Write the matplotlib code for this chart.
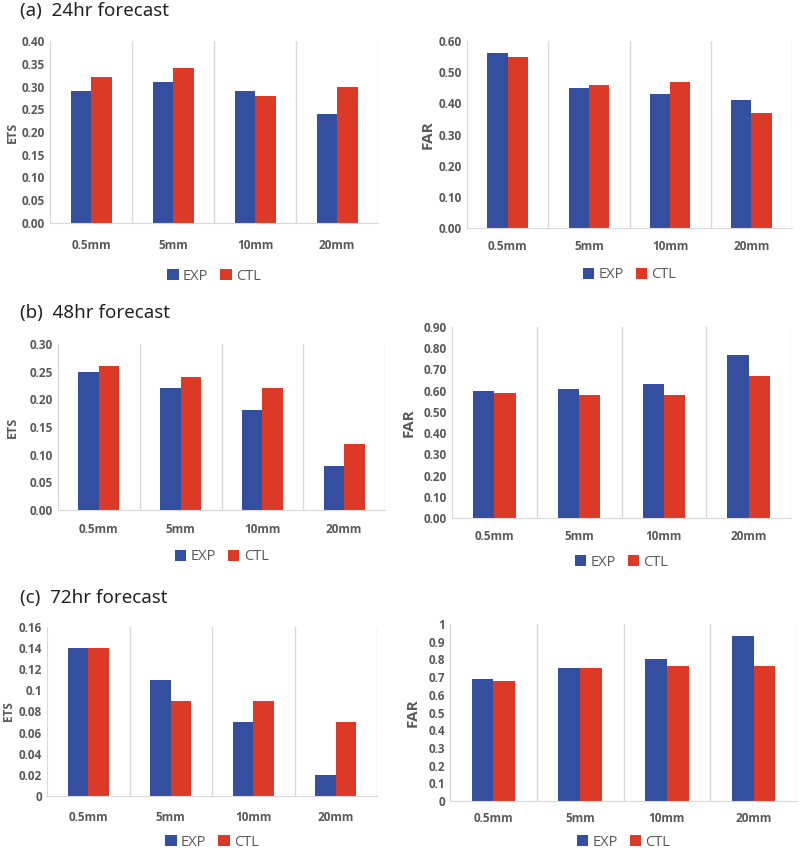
import numpy as np
import matplotlib.pyplot as plt

plt.rcParams['font.family'] = ['Open Sans', 'DejaVu Sans']

cats = ['0.5mm', '5mm', '10mm', '20mm']

ets_24_exp = [0.29, 0.31, 0.29, 0.24]
ets_24_ctl = [0.32, 0.34, 0.28, 0.30]
far_24_exp = [0.56, 0.45, 0.43, 0.41]
far_24_ctl = [0.55, 0.46, 0.47, 0.37]

ets_48_exp = [0.25, 0.22, 0.18, 0.08]
ets_48_ctl = [0.26, 0.24, 0.22, 0.12]
far_48_exp = [0.60, 0.61, 0.63, 0.77]
far_48_ctl = [0.59, 0.58, 0.58, 0.67]

ets_72_exp = [0.14, 0.11, 0.07, 0.02]
ets_72_ctl = [0.14, 0.09, 0.09, 0.07]
far_72_exp = [0.69, 0.75, 0.80, 0.93]
far_72_ctl = [0.68, 0.75, 0.76, 0.76]

titles = ['(a)  24hr forecast', '(b)  48hr forecast', '(c)  72hr forecast']

c_exp = '#344ea0'
c_ctl = '#dc3a27'
grey = '#595959'
line_c = '#d9d9d9'

W, H = 800, 850
fig = plt.figure(figsize=(8, 8.5), dpi=100)


def px_axes(x0, x1, y0, y1):
    # pixel box -> figure axes
    return fig.add_axes([x0 / W, 1 - y1 / H, (x1 - x0) / W, (y1 - y0) / H])


def panel(box, exp, ctl, ylab, ymax, step, fmt, leg_y, lab_size, ylab_x, xpad):
    ax = px_axes(*box)
    x = np.arange(len(cats))
    w = 0.25
    ax.bar(x - w / 2, exp, w, color=c_exp, label='EXP')
    ax.bar(x + w / 2, ctl, w, color=c_ctl, label='CTL')
    ax.set_xlim(-0.5, 3.5)
    ax.set_ylim(0, ymax)
    ticks = np.arange(0, ymax + step / 2, step)
    ax.set_yticks(ticks)
    ax.set_yticklabels([fmt(t) for t in ticks], fontweight='bold')
    ax.set_xticks(x)
    ax.set_xticklabels(cats, fontweight='bold')
    for b in [0.5, 1.5, 2.5, 3.5]:
        ax.axvline(b, color=line_c, lw=1, zorder=0)
    for s in ['top', 'right']:
        ax.spines[s].set_visible(False)
    ax.spines['left'].set_color(line_c)
    ax.spines['bottom'].set_color(line_c)
    ax.tick_params(length=0, colors=grey, labelsize=8.5)
    ax.tick_params(axis='x', pad=xpad)
    ax.set_ylabel(ylab, fontsize=lab_size, fontweight='bold', color=grey)
    ax.yaxis.set_label_coords((ylab_x - box[0]) / (box[1] - box[0]), 0.5)
    cx = (box[0] + box[1]) / 2
    ax.legend(loc='center', bbox_to_anchor=(cx / W, 1 - leg_y / H),
              bbox_transform=fig.transFigure, ncol=2, frameon=False,
              fontsize=10.5, handlelength=0.8, handleheight=0.8,
              handletextpad=0.3, columnspacing=0.8, labelcolor=grey)
    return ax


f2 = lambda t: '%.2f' % t
fg = lambda t: '%g' % round(t, 2)

panel((50, 378, 41, 223), ets_24_exp, ets_24_ctl, 'ETS', 0.40, 0.05, f2, 276, 9, 19, 11.5)
panel((467, 792, 41, 228), far_24_exp, far_24_ctl, 'FAR', 0.60, 0.10, f2, 275, 11, 435, 8.6)
panel((58, 385, 344, 510), ets_48_exp, ets_48_ctl, 'ETS', 0.30, 0.05, f2, 557, 9, 19, 9.4)
panel((452, 791, 327, 518), far_48_exp, far_48_ctl, 'FAR', 0.90, 0.10, f2, 562, 11, 416, 8.6)
panel((47, 377, 627, 796), ets_72_exp, ets_72_ctl, 'ETS', 0.16, 0.02, fg, 842, 8.5, 15, 10.8)
panel((450, 797, 624, 801), far_72_exp, far_72_ctl, 'FAR', 1.0, 0.1, fg, 842, 11, 420, 8)

for t, y in zip(titles, [11, 313, 598]):
    fig.text(20 / W, 1 - y / H, t, fontsize=13.5, va='center', ha='left',
             color='#222222', family=['Noto Sans', 'DejaVu Sans'])

fig.savefig('out.png', dpi=100)
